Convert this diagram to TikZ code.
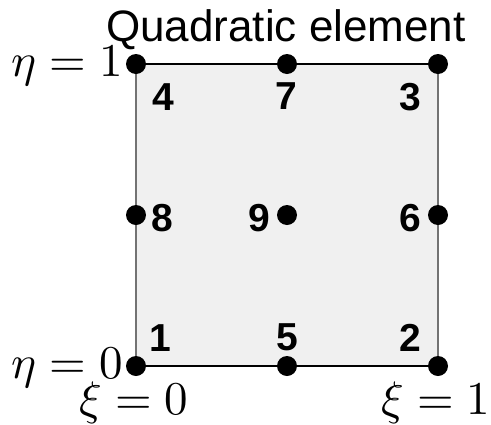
\documentclass[tikz,border=0pt]{standalone}
\usepackage{fontspec}
\setmainfont{Liberation Sans}
\usepackage{unicode-math}
\setmathfont{Latin Modern Math}
\begin{document}
\begin{tikzpicture}[x=1pt,y=-1pt,
  dot/.style={circle,fill=black,inner sep=0pt,minimum size=20pt},
  num/.style={font=\fontsize{39}{39}\selectfont\bfseries,inner sep=0pt,anchor=base},
  mlab/.style={font=\fontsize{47}{47}\selectfont,inner sep=0pt}]
\useasboundingbox (0,0) rectangle (491,424);
\fill[black!6] (136,64) rectangle (438,366);
\draw[black!55,line width=1.2pt] (136,64) -- (136,366) (438,64) -- (438,366);
\draw[black,line width=1.2pt] (136,64) -- (438,64) (136,366) -- (438,366);
\node[dot] (n1) at (136,366) {};
\node[dot] (n5) at (287,366) {};
\node[dot] (n2) at (438,366) {};
\node[dot] (n8) at (136,215) {};
\node[dot] (n9) at (287,215) {};
\node[dot] (n6) at (438,215) {};
\node[dot] (n4) at (136,64) {};
\node[dot] (n7) at (287,64) {};
\node[dot] (n3) at (438,64) {};
\node[num] (l4) at (163,110) {4};
\node[num] (l7) at (286,109) {7};
\node[num] (l3) at (410,110) {3};
\node[num] (l8) at (162,231) {8};
\node[num] (l9) at (259,231) {9};
\node[num] (l6) at (410,231) {6};
\node[num] (l1) at (160,351) {1};
\node[num] (l5) at (287,350) {5};
\node[num] (l2) at (410,351) {2};
\node[font=\fontsize{44}{44}\selectfont,inner sep=0pt,anchor=base] (title) at (286,41) {Quadratic element};
\node[mlab,anchor=base east] (e1) at (123,76) {$\eta=1$};
\node[mlab,anchor=base east] (e0) at (123,378) {$\eta=0$};
\node[mlab,anchor=base] (x0) at (134,414) {$\xi=0$};
\node[mlab,anchor=base] (x1) at (436,414) {$\xi=1$};
\end{tikzpicture}
\end{document}
